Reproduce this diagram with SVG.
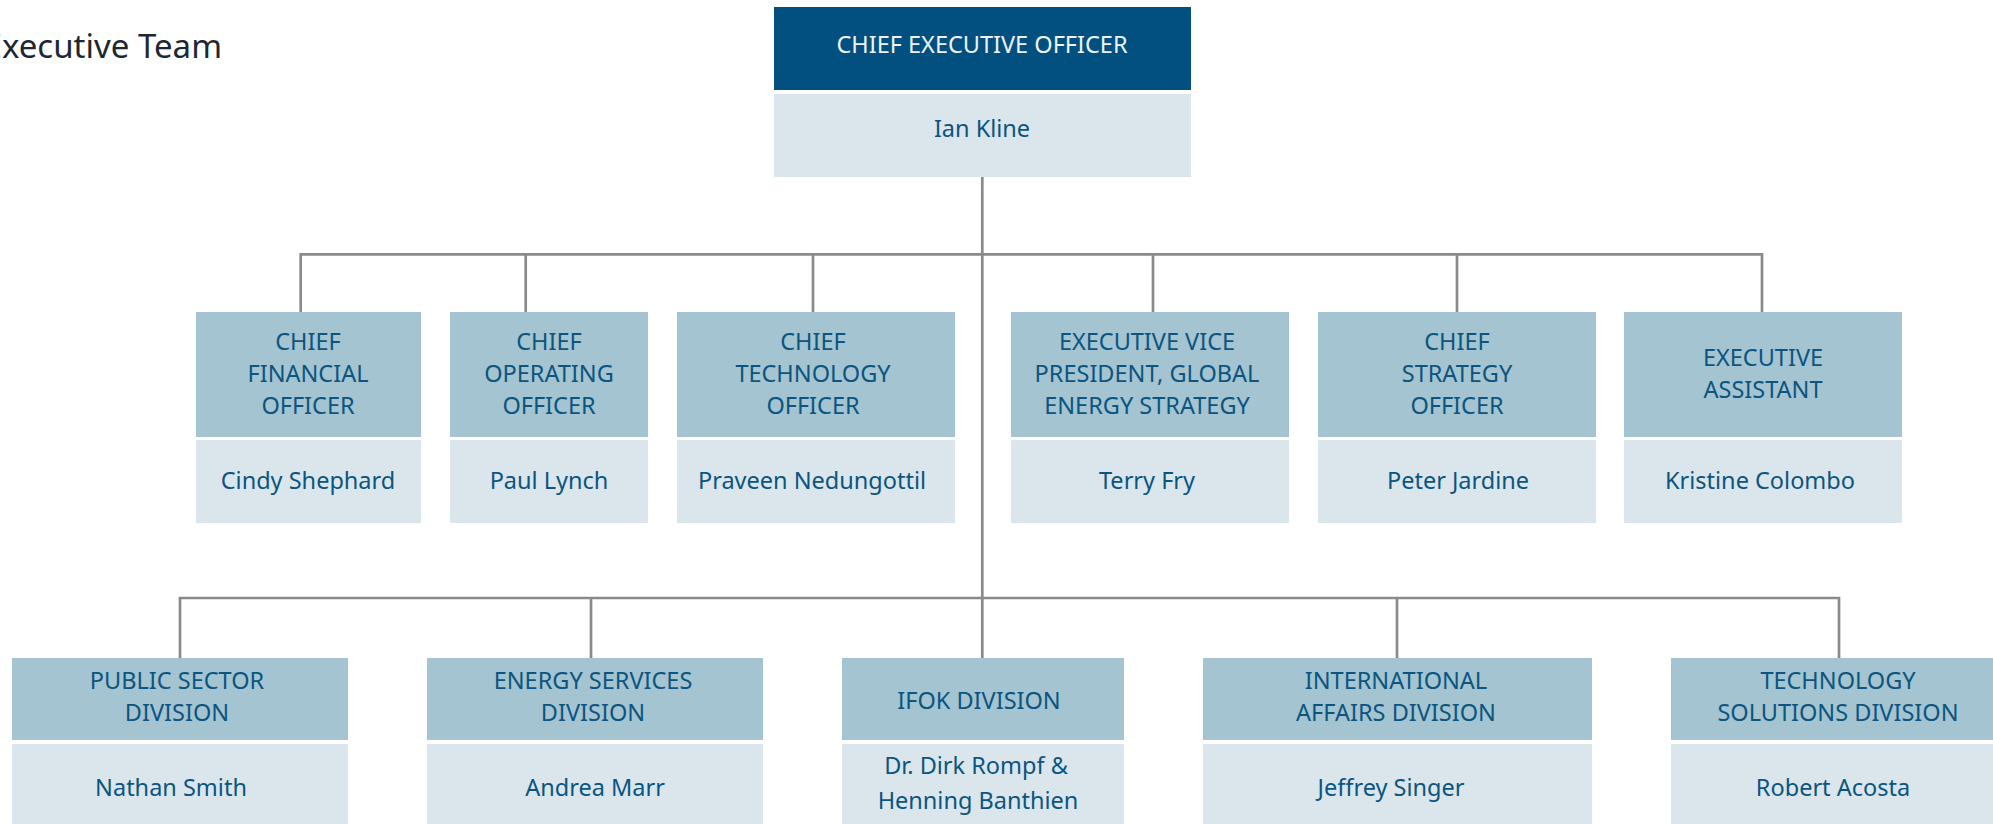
<svg xmlns="http://www.w3.org/2000/svg" width="1993" height="824" viewBox="0 0 1993 824">
<style>
text{font-family:"Noto Sans","DejaVu Sans",sans-serif;text-anchor:middle}
.t{font-size:23.5px;fill:#0b5580}
.n{font-size:23.5px;fill:#0b5580}
.ceo{font-size:23.5px;fill:#eef3f6}
.hd{fill:#a3c4d0}
.lt{fill:#dae6ec}
.dk{fill:#015080}
.c{fill:none;stroke:#8a8a8d;stroke-width:2.7}
.title{font-size:33px;fill:#1d2733;text-anchor:end}
</style>
<rect width="1993" height="824" fill="#ffffff"/>
<text class="title" x="222" y="58">Executive Team</text>
<g id="connectors">
<path class="c" d="M982.3 177V598"/>
<path class="c" d="M300.7 312V254.3H1762V312"/>
<path class="c" d="M525.7 254.3V312M813 254.3V312M1153 254.3V312M1457 254.3V312"/>
<path class="c" d="M180 658V598H1839V658"/>
<path class="c" d="M591 598V658M1397 598V658M982.3 598V658"/>
</g>
<g id="ceo">
<rect class="dk" x="774" y="7" width="417" height="83"/>
<rect class="lt" x="774" y="94" width="417" height="83"/>
<text class="ceo" x="982" y="53">CHIEF EXECUTIVE OFFICER</text>
<text class="n" x="982" y="137">Ian Kline</text>
</g>
<g id="cfo">
<rect class="hd" x="196" y="312" width="225" height="125"/>
<rect class="lt" x="196" y="440" width="225" height="83"/>
<text class="t" x="308" y="350">CHIEF</text>
<text class="t" x="308" y="382">FINANCIAL</text>
<text class="t" x="308" y="414">OFFICER</text>
<text class="n" x="308" y="489">Cindy Shephard</text>
</g>
<g id="coo">
<rect class="hd" x="450" y="312" width="198" height="125"/>
<rect class="lt" x="450" y="440" width="198" height="83"/>
<text class="t" x="549" y="350">CHIEF</text>
<text class="t" x="549" y="382">OPERATING</text>
<text class="t" x="549" y="414">OFFICER</text>
<text class="n" x="549" y="489">Paul Lynch</text>
</g>
<g id="cto">
<rect class="hd" x="677" y="312" width="278" height="125"/>
<rect class="lt" x="677" y="440" width="278" height="83"/>
<text class="t" x="813" y="350">CHIEF</text>
<text class="t" x="813" y="382">TECHNOLOGY</text>
<text class="t" x="813" y="414">OFFICER</text>
<text class="n" x="812" y="489">Praveen Nedungottil</text>
</g>
<g id="evp">
<rect class="hd" x="1011" y="312" width="278" height="125"/>
<rect class="lt" x="1011" y="440" width="278" height="83"/>
<text class="t" x="1147" y="350">EXECUTIVE VICE</text>
<text class="t" x="1147" y="382">PRESIDENT, GLOBAL</text>
<text class="t" x="1147" y="414">ENERGY STRATEGY</text>
<text class="n" x="1147" y="489">Terry Fry</text>
</g>
<g id="cso">
<rect class="hd" x="1318" y="312" width="278" height="125"/>
<rect class="lt" x="1318" y="440" width="278" height="83"/>
<text class="t" x="1457" y="350">CHIEF</text>
<text class="t" x="1457" y="382">STRATEGY</text>
<text class="t" x="1457" y="414">OFFICER</text>
<text class="n" x="1458" y="489">Peter Jardine</text>
</g>
<g id="ea">
<rect class="hd" x="1624" y="312" width="278" height="125"/>
<rect class="lt" x="1624" y="440" width="278" height="83"/>
<text class="t" x="1763" y="366">EXECUTIVE</text>
<text class="t" x="1763" y="398">ASSISTANT</text>
<text class="n" x="1760" y="489">Kristine Colombo</text>
</g>
<g id="psd">
<rect class="hd" x="12" y="658" width="336" height="82"/>
<rect class="lt" x="12" y="744" width="336" height="80"/>
<text class="t" x="177" y="689">PUBLIC SECTOR</text>
<text class="t" x="177" y="721">DIVISION</text>
<text class="n" x="171" y="796">Nathan Smith</text>
</g>
<g id="esd">
<rect class="hd" x="427" y="658" width="336" height="82"/>
<rect class="lt" x="427" y="744" width="336" height="80"/>
<text class="t" x="593" y="689">ENERGY SERVICES</text>
<text class="t" x="593" y="721">DIVISION</text>
<text class="n" x="595" y="796">Andrea Marr</text>
</g>
<g id="ifok">
<rect class="hd" x="842" y="658" width="282" height="82"/>
<rect class="lt" x="842" y="744" width="282" height="80"/>
<text class="t" x="979" y="709">IFOK DIVISION</text>
<text class="n" x="976" y="774">Dr. Dirk Rompf &amp;</text>
<text class="n" x="978" y="809">Henning Banthien</text>
</g>
<g id="iad">
<rect class="hd" x="1203" y="658" width="389" height="82"/>
<rect class="lt" x="1203" y="744" width="389" height="80"/>
<text class="t" x="1396" y="689">INTERNATIONAL</text>
<text class="t" x="1396" y="721">AFFAIRS DIVISION</text>
<text class="n" x="1391" y="796">Jeffrey Singer</text>
</g>
<g id="tsd">
<rect class="hd" x="1671" y="658" width="336" height="82"/>
<rect class="lt" x="1671" y="744" width="336" height="80"/>
<text class="t" x="1838" y="689">TECHNOLOGY</text>
<text class="t" x="1838" y="721">SOLUTIONS DIVISION</text>
<text class="n" x="1833" y="796">Robert Acosta</text>
</g>
</svg>
